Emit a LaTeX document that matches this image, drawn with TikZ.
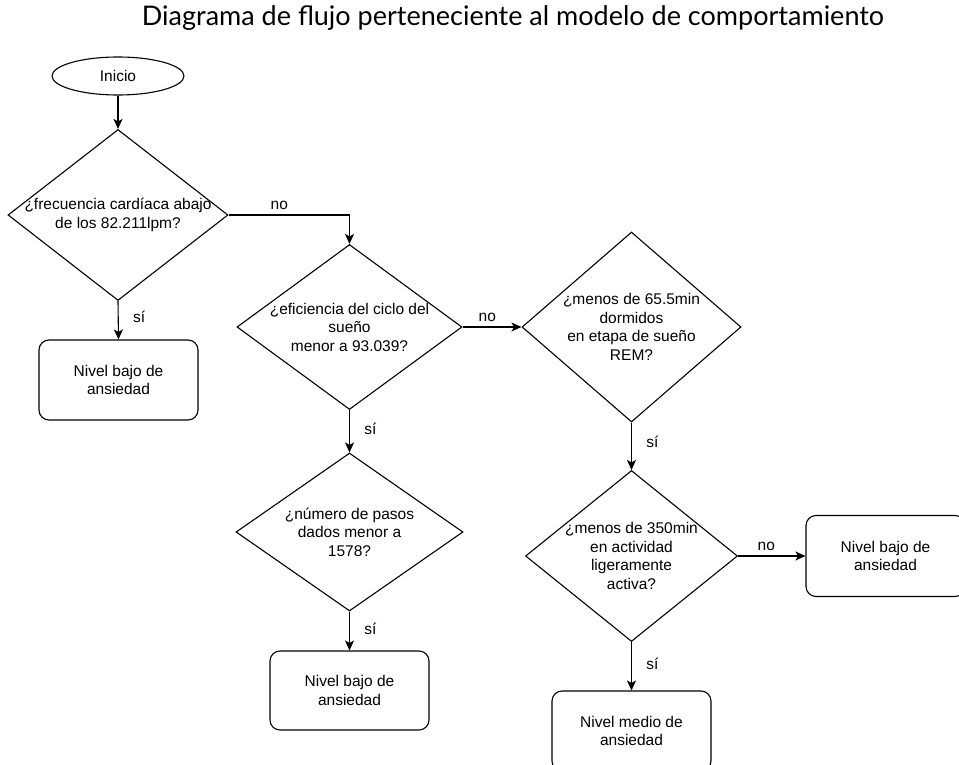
\documentclass[tikz,border=0pt]{standalone}
\usepackage{fontspec}
\setmainfont{Liberation Sans}
\newfontfamily\titlefont{Lato}
\usetikzlibrary{shapes.geometric,arrows.meta}

\begin{document}
\begin{tikzpicture}[x=1pt,y=1pt,
  every node/.style={font=\fontsize{15.5}{18.5}\selectfont, text=black},
  line/.style={draw=black, line width=1.1pt},
  flow/.style={line, -{Stealth[length=10pt,width=9pt,inset=2.5pt]}},
  decision/.style={line, shape=diamond, inner sep=0pt},
  qtext/.style={align=center},
  outcome/.style={line, rectangle, rounded corners=10pt, align=center,
                  minimum width=159pt, minimum height=80pt},
  start/.style={line, ellipse, minimum width=132pt, minimum height=38pt},
  yeslbl/.style={anchor=west, xshift=11pt, pos=0.45},
  nolbl/.style={anchor=south, yshift=1pt, pos=0.42}
]
\useasboundingbox (0,0) rectangle (959,-765);

% title
\node[font=\titlefont\fontsize{27}{31}\selectfont, anchor=base] (title) at (513,-26)
  {Diagrama de flujo perteneciente al modelo de comportamiento};

% start
\node[start] (ini) at (118,-76) {Inicio};

% decisions
\node[decision, minimum width=220pt, minimum height=171pt,
  label={[qtext]center:{¿frecuencia cardíaca abajo\\de los 82.211lpm?}}] (d1) at (118,-215) {};
\node[decision, minimum width=225pt, minimum height=165pt,
  label={[qtext]center:{¿eficiencia del ciclo del\\sueño\\menor a 93.039?}}] (d2) at (349.5,-327) {};
\node[decision, minimum width=219pt, minimum height=190pt,
  label={[qtext]center:{¿menos de 65.5min\\dormidos\\en etapa de sueño\\REM?}}] (d3) at (631.5,-327) {};
\node[decision, minimum width=227pt, minimum height=158pt,
  label={[qtext]center:{¿número de pasos\\dados menor a\\1578?}}] (d5) at (349.5,-532) {};
\node[decision, minimum width=212pt, minimum height=171pt,
  label={[qtext]center:{¿menos de 350min\\en actividad\\ligeramente\\activa?}}] (d4) at (631.5,-556) {};

% outcomes
\node[outcome] (b1) at (118.5,-380) {Nivel bajo de\\ansiedad};
\node[outcome, minimum height=79pt] (b5) at (349.5,-690.5) {Nivel bajo de\\ansiedad};
\node[outcome, minimum height=81pt] (bR) at (885.5,-556) {Nivel bajo de\\ansiedad};
\node[outcome] (bM) at (631.5,-731) {Nivel medio de\\ansiedad};

% connectors
\draw[flow] (ini.south) -- (d1.north);
\draw[flow] (d1.south) -- node[yeslbl, pos=0.4] {sí} (b1.north);
\draw[flow] (d1.east) -| node[anchor=south, yshift=1pt, pos=0.21] {no} (d2.north);
\draw[flow] (d2.south) -- node[yeslbl] {sí} (d5.north);
\draw[flow] (d2.east) -- node[nolbl] {no} (d3.west);
\draw[flow] (d3.south) -- node[yeslbl, pos=0.41] {sí} (d4.north);
\draw[flow] (d5.south) -- node[yeslbl] {sí} (b5.north);
\draw[flow] (d4.east) -- node[nolbl] {no} (bR.west);
\draw[flow] (d4.south) -- node[yeslbl] {sí} (bM.north);
\end{tikzpicture}
\end{document}
